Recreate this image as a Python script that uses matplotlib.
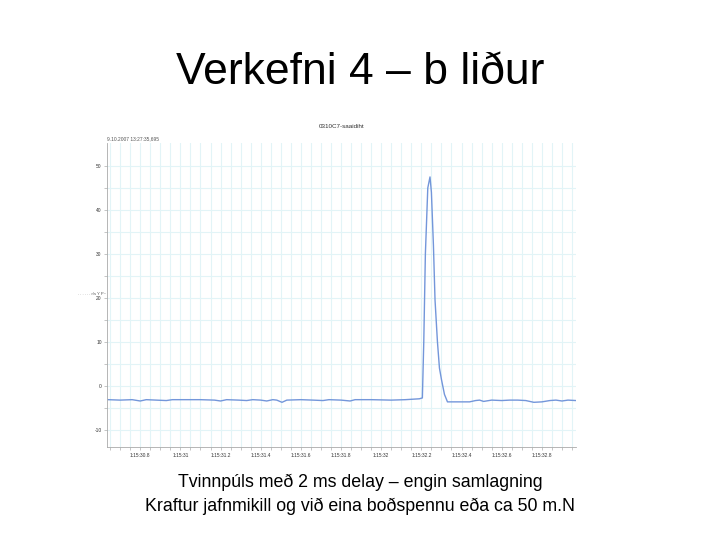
import matplotlib
matplotlib.use("Agg")
import matplotlib.pyplot as plt
import numpy as np

# -----------------------------
# DATA
# -----------------------------
slide_title = "Verkefni 4 – b liður"
caption_1 = "Tvinnpúls með 2 ms delay – engin samlagning"
caption_2 = "Kraftur jafnmikill og við eina boðspennu eða ca 50 m.N"
chart_title = "0310C7-saaidiht"
time_stamp = "9.10.2007 13:27:35,695"

# time in seconds after 1:15:00, force signal
t = [30.64, 30.70, 30.76, 30.80, 30.83, 30.88, 30.93, 30.96, 31.02, 31.10,
     31.17, 31.20, 31.23, 31.29, 31.33, 31.36, 31.40, 31.43, 31.46, 31.48,
     31.506, 31.53, 31.60, 31.66, 31.71, 31.74, 31.80, 31.845, 31.87, 31.95,
     32.05, 32.12, 32.19, 32.205, 32.212, 32.22, 32.232, 32.243, 32.25, 32.26,
     32.268, 32.28, 32.29, 32.30, 32.315, 32.33, 32.38, 32.44, 32.47, 32.49,
     32.51, 32.55, 32.60, 32.64, 32.68, 32.72, 32.76, 32.80, 32.84, 32.87,
     32.90, 32.93, 32.97]
force = [-3.2, -3.3, -3.2, -3.5, -3.2, -3.3, -3.4, -3.2, -3.2, -3.2,
         -3.3, -3.5, -3.2, -3.3, -3.4, -3.2, -3.3, -3.5, -3.2, -3.3,
         -3.8, -3.3, -3.2, -3.3, -3.4, -3.2, -3.3, -3.5, -3.2, -3.2,
         -3.3, -3.2, -3.0, -2.8, 10.0, 30.0, 45.0, 47.5, 44.0, 32.0,
         19.5, 10.0, 4.0, 1.4, -2.0, -3.7, -3.7, -3.7, -3.4, -3.3,
         -3.6, -3.3, -3.4, -3.3, -3.3, -3.4, -3.8, -3.7, -3.4, -3.3,
         -3.5, -3.3, -3.4]

x_ticks = [30.8, 31.0, 31.2, 31.4, 31.6, 31.8, 32.0, 32.2, 32.4, 32.6, 32.8]
x_labels = ["1:15:30.8", "1:15:31", "1:15:31.2", "1:15:31.4", "1:15:31.6",
            "1:15:31.8", "1:15:32", "1:15:32.2", "1:15:32.4", "1:15:32.6",
            "1:15:32.8"]
y_ticks = [-10, 0, 10, 20, 30, 40, 50]

plt.rcParams['font.family'] = ['Liberation Sans', 'DejaVu Sans']

# -----------------------------
# FIGURE
# -----------------------------
fig = plt.figure(figsize=(7.2, 5.4), dpi=100)
fig.text(0.5, 0.865, slide_title, ha="center", va="center", fontsize=32)
fig.text(0.5, 0.107, caption_1, ha="center", va="center", fontsize=12.8)
fig.text(0.5, 0.062, caption_2, ha="center", va="center", fontsize=12.8)

ax = fig.add_axes([0.149, 0.172, 0.651, 0.563])
ax.plot(t, force, color="#7396da", linewidth=1.0)
ax.set_xlim(30.636, 32.97)
ax.set_ylim(-14, 55.2)

ax.set_xticks(x_ticks)
ax.set_xticklabels(x_labels, fontsize=3.5, color="#333333")
ax.set_xticks(np.arange(30.65, 32.97, 0.05), minor=True)
ax.set_yticks(y_ticks)
ax.set_yticklabels([str(v) for v in y_ticks], fontsize=3.5, color="#333333")
ax.set_yticks(np.arange(-10, 55, 5), minor=True)

ax.grid(True, which="both", color="#e2f4f7", linewidth=0.8)
ax.set_axisbelow(True)
ax.tick_params(axis="both", which="both", length=2, width=0.4, color="#999999", pad=2)
for side in ["top", "right"]:
    ax.spines[side].set_visible(False)
for side in ["left", "bottom"]:
    ax.spines[side].set_color("#aaaaaa")
    ax.spines[side].set_linewidth(0.6)

ax.set_title(chart_title, fontsize=4.5, color="#333333", pad=11)
ax.text(0.0, 1.005, time_stamp, transform=ax.transAxes, fontsize=3.5,
        color="#555555", ha="left", va="bottom")
fig.text(0.108, 0.455, ". . . . . . r/s Y P~", fontsize=3, color="#555555",
         ha="left", va="center")

fig.savefig("out.png", dpi=100)
